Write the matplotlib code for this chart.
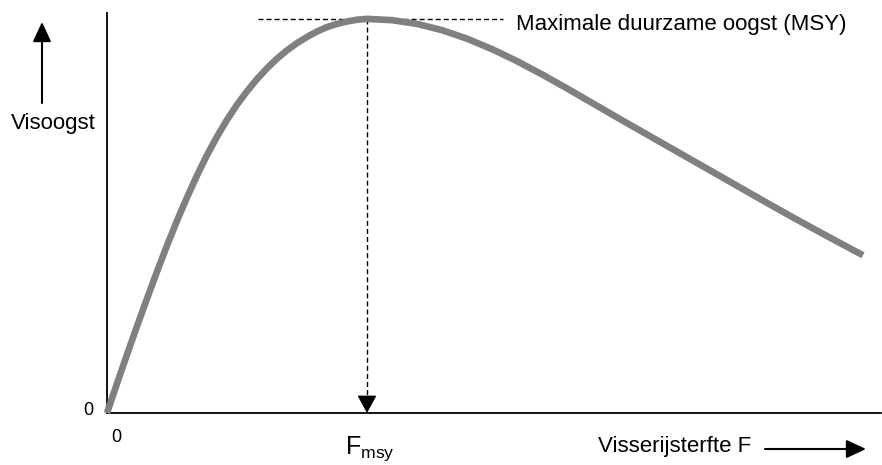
import matplotlib.pyplot as plt

plt.rcParams['font.family'] = ['Liberation Sans', 'DejaVu Sans']
plt.rcParams['mathtext.fontset'] = 'custom'
plt.rcParams['mathtext.rm'] = 'Liberation Sans'
plt.rcParams['mathtext.default'] = 'regular'

# visserijsterfte F (willekeurige eenheden) en visoogst (willekeurige schaal)
sterfte = [0, 0.129, 0.258, 0.388, 0.517, 0.646, 0.775, 0.904, 1.034, 1.163,
           1.292, 1.421, 1.550, 1.680, 1.809, 1.938, 2.067, 2.196, 2.326, 2.455,
           2.584, 2.713, 2.842, 2.972, 3.101, 3.230, 3.359,
           3.682, 4.005, 4.328, 4.651, 4.974, 5.297, 5.620, 5.943, 6.266, 6.589,
           6.912, 7.235, 7.558, 7.881, 8.204, 8.527, 8.850, 9.173, 9.496, 9.767]
oogst = [0, 7.35, 14.6, 21.7, 28.6, 35.35, 41.85, 48.05, 53.9, 59.4,
         64.5, 69.1, 73.3, 77.1, 80.45, 83.5, 86.2, 88.6, 90.7, 92.5,
         94.05, 95.4, 96.5, 97.3, 97.9, 98.35, 98.55,
         98.24, 97.3, 95.74, 93.61, 90.99, 87.99, 84.68, 81.18, 77.55, 73.93,
         70.36, 66.8, 63.24, 59.68, 56.11, 52.55, 49.05, 45.61, 42.24, 39.45]
f_msy = 3.359
msy = 98.55
msy_lijn = [1.95, 5.12]

fig = plt.figure(figsize=(8.82, 4.65), dpi=100)
ax = fig.add_axes([0.1213, 0.1118, 0.8776, 0.860])

# curve
ax.plot(sterfte, oogst, color='#808080', lw=4.8, solid_capstyle='butt',
        solid_joinstyle='round', clip_on=False, zorder=3)

# MSY lijnen
ax.plot(msy_lijn, [msy, msy], color='black', lw=1, linestyle=(0, (3.6, 2.2)), zorder=2)
ax.plot([f_msy, f_msy], [msy, 3], color='black', lw=1, linestyle=(0, (3.6, 2.2)), zorder=2)
ax.annotate('', xy=(f_msy, 0), xytext=(f_msy, 4),
            arrowprops=dict(arrowstyle='-|>,head_length=0.55,head_width=0.3',
                            mutation_scale=20, color='black', lw=1,
                            shrinkA=0, shrinkB=0), zorder=4)

ax.set_xlim(0, 10)
ax.set_ylim(0, 100)
for s in ['top', 'right']:
    ax.spines[s].set_visible(False)
for s in ['left', 'bottom']:
    ax.spines[s].set_linewidth(1.3)
    ax.spines[s].set_color('black')
ax.set_xticks([])
ax.set_yticks([])

# teksten
fig.text(516, 465 - 24, 'Maximale duurzame oogst (MSY)', fontsize=16,
         ha='left', va='center', transform=None)
fig.text(53, 465 - 123, 'Visoogst', fontsize=16, ha='center', va='center', transform=None)
fig.text(88, 465 - 410, '0', fontsize=13, ha='center', va='center', transform=None)
fig.text(116, 465 - 437, '0', fontsize=13, ha='center', va='center', transform=None)
fig.text(345, 465 - 449, r'F$_{msy}$', fontsize=18, ha='left', va='center', transform=None)
fig.text(598, 465 - 446, 'Visserijsterfte F', fontsize=16, ha='left', va='center', transform=None)

# pijlen buiten de assen
pijl = dict(arrowstyle='-|>,head_length=0.6,head_width=0.28', mutation_scale=20,
            color='black', lw=1.5, shrinkA=0, shrinkB=0)
ax.annotate('', xy=(42, 465 - 22), xytext=(42, 465 - 103),
            xycoords='figure pixels', textcoords='figure pixels', arrowprops=pijl)
ax.annotate('', xy=(866, 465 - 449), xytext=(765, 465 - 449),
            xycoords='figure pixels', textcoords='figure pixels', arrowprops=pijl)

fig.savefig('out.png', dpi=100)
